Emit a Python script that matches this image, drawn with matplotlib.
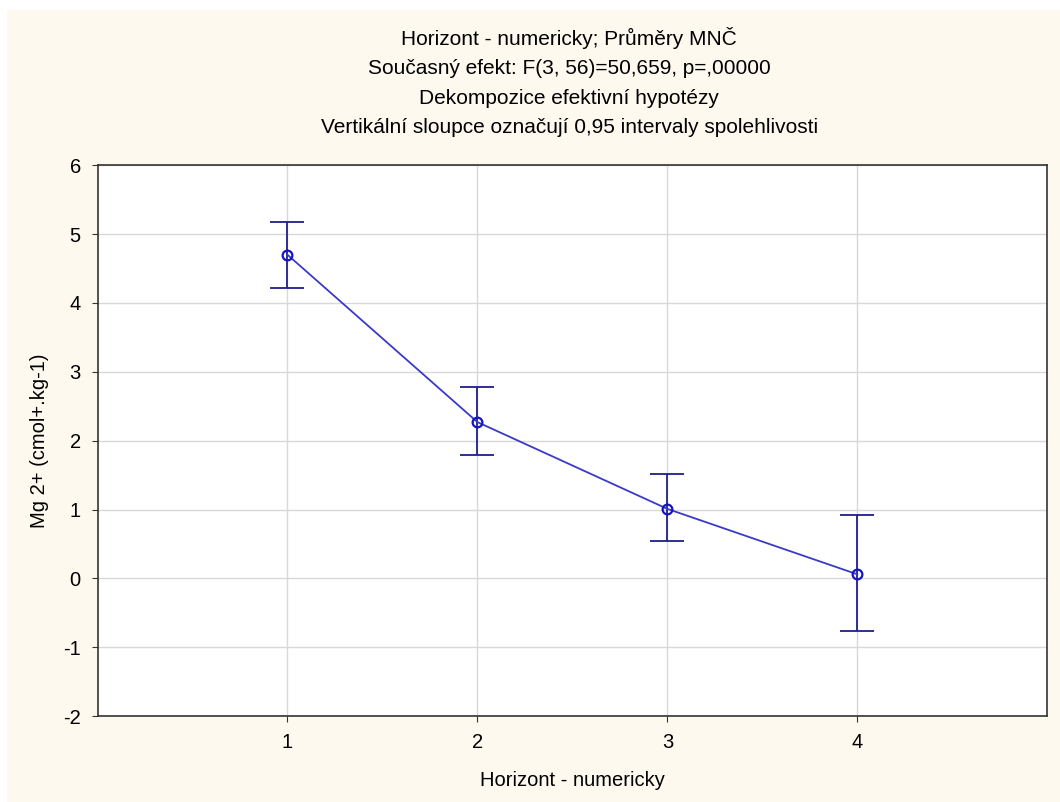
import matplotlib
matplotlib.use("Agg")
import matplotlib.pyplot as plt
from matplotlib.patches import Rectangle

horizons = [1, 2, 3, 4]
means = [4.70, 2.27, 1.01, 0.06]
ci_upper = [5.18, 2.78, 1.52, 0.92]
ci_lower = [4.21, 1.79, 0.54, -0.77]

plt.rcParams["font.family"] = ["Liberation Sans", "DejaVu Sans"]
plt.rcParams["axes.unicode_minus"] = False

fig = plt.figure(figsize=(10.6, 8.02), dpi=100, facecolor="white")
# cream panel with a thin white margin at top/left, like the screenshot
fig.patches.append(Rectangle((0.007, 0.0), 0.993, 0.988, transform=fig.transFigure,
                             facecolor="#fdf9ef", edgecolor="none", zorder=-10))

ax = fig.add_axes([0.092, 0.107, 0.896, 0.687])
ax.set_facecolor("white")

err_low = [m - l for m, l in zip(means, ci_lower)]
err_high = [u - m for m, u in zip(means, ci_upper)]
ax.errorbar(horizons, means, yerr=[err_low, err_high], fmt="none",
            ecolor="#1f1f8a", elinewidth=1.3, capsize=12, capthick=1.3, zorder=3)
ax.plot(horizons, means, color="#3a3ac8", linewidth=1.3, marker="o",
        markersize=7, markerfacecolor="none", markeredgecolor="#1515c0",
        markeredgewidth=1.6, zorder=4)

ax.set_xlim(0, 5)
ax.set_ylim(-2, 6)
ax.set_xticks(horizons)
ax.set_yticks(range(-2, 7))
ax.grid(True, color="#d8d8d8", linewidth=1)
ax.set_axisbelow(True)
for s in ax.spines.values():
    s.set_color("#333333")
    s.set_linewidth(1.2)
ax.tick_params(labelsize=14.5, length=4, color="#333333", pad=8)

ax.set_xlabel("Horizont - numericky", fontsize=14.5, labelpad=14)
ax.set_ylabel("Mg 2+ (cmol+.kg-1)", fontsize=14.5, labelpad=10)

title = ("Horizont - numericky; Průměry MNČ\n"
         "Současný efekt: F(3, 56)=50,659, p=,00000\n"
         "Dekompozice efektivní hypotézy\n"
         "Vertikální sloupce označují 0,95 intervaly spolehlivosti")
fig.text(0.537, 0.966, title, ha="center", va="top", fontsize=15, linespacing=1.68)

fig.savefig("out.png", dpi=100, facecolor=fig.get_facecolor())
